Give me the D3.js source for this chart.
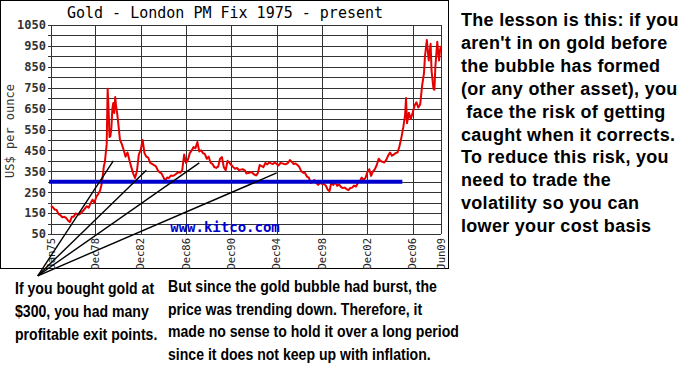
<!DOCTYPE html>
<html lang="en">
<head>
<meta charset="UTF-8">
<title>Gold - London PM Fix 1975 - present</title>
<script src="https://cdnjs.cloudflare.com/ajax/libs/d3/7.8.5/d3.min.js"></script>
<style>
    body { margin: 0; background: #fff; }
    .mono { font-family: "DejaVu Sans Mono", "Liberation Mono", monospace; }
    .note { font-family: "Liberation Sans", Arial, sans-serif; font-weight: bold; fill: #000; white-space: pre; }
</style>
</head>
<body>
<script>
    // gold price (month, US$ per ounce)
    var goldMonths = [
        "1975-01","1975-03","1975-05","1975-07","1975-09","1975-11",
        "1976-01","1976-03","1976-05","1976-07","1976-09","1976-11",
        "1977-01","1977-03","1977-05","1977-07","1977-09","1977-11",
        "1978-01","1978-03","1978-05","1978-07","1978-09","1978-11",
        "1979-01","1979-03","1979-05","1979-07","1979-09","1979-10","1979-12",
        "1980-01","1980-02","1980-03","1980-04","1980-05","1980-06","1980-07","1980-08","1980-09","1980-10","1980-11","1980-12",
        "1981-02","1981-04","1981-06","1981-08","1981-10","1981-12",
        "1982-02","1982-04","1982-06","1982-08","1982-10","1982-12",
        "1983-02","1983-04","1983-06","1983-08","1983-10","1983-12",
        "1984-02","1984-04","1984-06","1984-08","1984-10","1984-12",
        "1985-02","1985-04","1985-06","1985-08","1985-10","1985-12",
        "1986-02","1986-04","1986-06","1986-08","1986-10","1986-12",
        "1987-02","1987-04","1987-06","1987-08","1987-10","1987-12",
        "1988-02","1988-04","1988-06","1988-08","1988-10","1988-12",
        "1989-02","1989-04","1989-06","1989-08","1989-10","1989-12",
        "1990-02","1990-04","1990-06","1990-08","1990-10","1990-12",
        "1991-02","1991-04","1991-06","1991-08","1991-10","1991-12",
        "1992-02","1992-04","1992-06","1992-08","1992-10","1992-12",
        "1993-02","1993-04","1993-06","1993-08","1993-10","1993-12",
        "1994-02","1994-04","1994-06","1994-08","1994-10","1994-12",
        "1995-02","1995-04","1995-06","1995-08","1995-10","1995-12",
        "1996-02","1996-04","1996-06","1996-08","1996-10","1996-12",
        "1997-02","1997-04","1997-06","1997-08","1997-10","1997-12",
        "1998-02","1998-04","1998-06","1998-08","1998-10","1998-12",
        "1999-02","1999-04","1999-06","1999-08","1999-10","1999-12",
        "2000-02","2000-04","2000-06","2000-08","2000-10","2000-12",
        "2001-02","2001-04","2001-06","2001-08","2001-10","2001-12",
        "2002-02","2002-04","2002-06","2002-08","2002-10","2002-12",
        "2003-02","2003-04","2003-06","2003-08","2003-10","2003-12",
        "2004-02","2004-04","2004-06","2004-08","2004-10","2004-12",
        "2005-02","2005-04","2005-06","2005-08","2005-10","2005-12",
        "2006-02","2006-04","2006-05","2006-06","2006-08","2006-10","2006-12",
        "2007-02","2007-04","2007-06","2007-08","2007-10","2007-12",
        "2008-01","2008-03","2008-05","2008-07","2008-08","2008-10","2008-11","2008-12",
        "2009-02","2009-03","2009-04","2009-05","2009-06"
    ];
    var goldPrices = [
        185, 178, 167, 165, 145, 140,
        130, 132, 127, 115, 107, 132,
        133, 148, 146, 143, 152, 161,
        172, 183, 176, 198, 214, 200,
        228, 241, 257, 295, 375, 392, 480,
        745, 640, 514, 520, 560, 650, 677, 629, 705, 660, 630, 590,
        500, 480, 452, 420, 440, 404,
        370, 340, 318, 350, 430, 452,
        500, 437, 420, 415, 390, 385,
        380, 375, 356, 345, 340, 322,
        305, 320, 318, 330, 328, 332,
        340, 345, 343, 356, 430, 390,
        405, 437, 450, 466, 460, 490,
        445, 450, 437, 432, 410, 420,
        390, 385, 370, 366, 372, 410,
        418, 370, 355, 400, 390, 380,
        370, 362, 366, 356, 358, 360,
        356, 340, 342, 345, 344, 335,
        330, 340, 380, 375, 370, 390,
        383, 392, 388, 385, 392, 385,
        378, 390, 388, 385, 384, 390,
        404, 395, 385, 387, 380, 370,
        350, 343, 342, 325, 320, 295,
        300, 308, 294, 285, 295, 290,
        288, 282, 262, 255, 300, 285,
        298, 280, 288, 275, 270, 272,
        265, 260, 270, 272, 282, 277,
        295, 302, 320, 310, 318, 345,
        360, 328, 350, 360, 380, 410,
        400, 395, 392, 405, 425, 440,
        425, 430, 438, 440, 470, 510,
        560, 620, 701, 580, 630, 600, 630,
        665, 680, 655, 670, 760, 820,
        900, 978, 880, 960, 830, 745, 740, 850,
        970, 920, 880, 930, 950
    ];

    // axes
    var yTicks = [50, 150, 250, 350, 450, 550, 650, 750, 850, 950, 1050];
    var xTickMonths = ["1975-01","1978-12","1982-12","1986-12","1990-12","1994-12","1998-12","2002-12","2006-12","2009-06"];
    var xTickLabels = ["Jan75","Dec78","Dec82","Dec86","Dec90","Dec94","Dec98","Dec02","Dec06","Jun09"];

    // the $300 buy line and the exit-point pointers
    var buyPrice = 300;
    var buyFrom = "1974-11", buyTo = "2006-01";
    var pointerMonth = "1973-11", pointerPrice = -150;
    var exitMonths = ["1980-07","1983-06","1988-02","1994-12"];
    var exitPrices = [400, 355, 390, 342];

    // annotation texts
    var lessonLines = [
        "The lesson is this: if you",
        "aren't in on gold before",
        "the bubble has formed",
        "(or any other asset), you",
        " face the risk of getting",
        "caught when it corrects.",
        "To reduce this risk, you",
        "need to trade the",
        "volatility so you can",
        "lower your cost basis"
    ];
    var exitLines = [
        "If you bought gold at",
        "$300, you had many",
        "profitable exit points."
    ];
    var burstLines = [
        "But since the gold bubble had burst, the",
        "price was trending down. Therefore, it",
        "made no sense to hold it over a long period",
        "since it does not keep up with inflation."
    ];

    var parseMonth = d3.timeParse("%Y-%m");
    var gold = goldMonths.map(function (m, i) {
        return { date: parseMonth(m), price: goldPrices[i] };
    });

    var svg = d3.select("body").append("svg")
        .attr("width", 683)
        .attr("height", 384)
        .style("display", "block");

    svg.append("rect").attr("width", 683).attr("height", 384).attr("fill", "#fff");

    // chart frame
    svg.append("rect")
        .attr("x", 0.5).attr("y", 0.5)
        .attr("width", 448).attr("height", 268)
        .attr("fill", "#fff")
        .attr("stroke", "#000");

    var x = d3.scaleTime()
        .domain([parseMonth("1975-01"), parseMonth("2009-06")])
        .range([51, 441]);
    var y = d3.scaleLinear()
        .domain([50, 1050])
        .range([234, 25]);

    var grid = svg.append("g").attr("class", "grid");

    // horizontal grid every $50
    grid.selectAll("line.h")
        .data(d3.range(50, 1051, 50))
        .enter().append("line")
        .attr("class", "h")
        .attr("x1", x.range()[0] - 3).attr("x2", x.range()[1])
        .attr("y1", function (d) { return Math.round(y(d)) + 0.5; })
        .attr("y2", function (d) { return Math.round(y(d)) + 0.5; })
        .attr("stroke", "#333")
        .attr("stroke-width", 1);

    // vertical grid at the date ticks
    grid.selectAll("line.v")
        .data(xTickMonths)
        .enter().append("line")
        .attr("class", "v")
        .attr("x1", function (d) { return Math.round(x(parseMonth(d))) + 0.5; })
        .attr("x2", function (d) { return Math.round(x(parseMonth(d))) + 0.5; })
        .attr("y1", y(1050)).attr("y2", y(50))
        .attr("stroke", "#333")
        .attr("stroke-width", 1);

    // y tick labels
    svg.append("g").attr("class", "mono")
        .selectAll("text")
        .data(yTicks)
        .enter().append("text")
        .attr("x", 46)
        .attr("y", function (d) { return y(d); })
        .attr("dy", "0.36em")
        .attr("text-anchor", "end")
        .attr("font-size", 12)
        .attr("font-weight", "bold")
        .attr("fill", "#333")
        .text(function (d) { return d; });

    // x tick labels, rotated
    svg.append("g").attr("class", "mono")
        .selectAll("text")
        .data(xTickMonths)
        .enter().append("text")
        .attr("transform", function (d) {
            return "translate(" + x(parseMonth(d)) + "," + (y(50) + 4) + ") rotate(-90)";
        })
        .attr("dy", "0.35em")
        .attr("text-anchor", "end")
        .attr("font-size", 10.5)
        .attr("fill", "#222")
        .text(function (d, i) { return xTickLabels[i]; });

    // y axis title
    svg.append("text")
        .attr("class", "mono")
        .attr("transform", "translate(10,131) rotate(-90)")
        .attr("dy", "0.35em")
        .attr("text-anchor", "middle")
        .attr("font-size", 12)
        .attr("fill", "#333")
        .text("US$ per ounce");

    // title
    svg.append("text")
        .attr("class", "mono")
        .attr("x", 225).attr("y", 18)
        .attr("text-anchor", "middle")
        .attr("font-size", 15)
        .attr("fill", "#000")
        .text("Gold - London PM Fix 1975 - present");

    // watermark
    svg.append("text")
        .attr("class", "mono")
        .attr("x", 225).attr("y", 232)
        .attr("text-anchor", "middle")
        .attr("font-size", 14)
        .attr("font-weight", "bold")
        .attr("fill", "#0000cc")
        .text("www.kitco.com");

    // price line
    var line = d3.line()
        .x(function (d) { return x(d.date); })
        .y(function (d) { return y(d.price); });

    svg.append("path")
        .datum(gold)
        .attr("d", line)
        .attr("fill", "none")
        .attr("stroke", "#e60000")
        .attr("stroke-width", 2)
        .attr("stroke-linejoin", "round");

    // $300 buy level
    svg.append("line")
        .attr("x1", x(parseMonth(buyFrom))).attr("x2", x(parseMonth(buyTo)))
        .attr("y1", y(buyPrice)).attr("y2", y(buyPrice))
        .attr("stroke", "#0000cc")
        .attr("stroke-width", 4);

    // pointers to the exit points
    var px = x(parseMonth(pointerMonth)), py = y(pointerPrice);
    svg.append("g").selectAll("line")
        .data(exitMonths)
        .enter().append("line")
        .attr("x1", px).attr("y1", py)
        .attr("x2", function (d) { return x(parseMonth(d)); })
        .attr("y2", function (d, i) { return y(exitPrices[i]); })
        .attr("stroke", "#000")
        .attr("stroke-width", 1.4);

    // right-hand note
    svg.append("g").selectAll("text")
        .data(lessonLines)
        .enter().append("text")
        .attr("class", "note")
        .attr("x", 461)
        .attr("y", function (d, i) { return 26 + i * 22.9; })
        .attr("font-size", 18)
        .attr("letter-spacing", 0.3)
        .text(function (d) { return d; });

    // bottom notes, condensed
    var exitNote = svg.append("g").attr("transform", "translate(15,0) scale(0.88,1)");
    exitNote.selectAll("text")
        .data(exitLines)
        .enter().append("text")
        .attr("class", "note")
        .attr("x", 0)
        .attr("y", function (d, i) { return 294 + i * 23; })
        .attr("font-size", 16)
        .text(function (d) { return d; });

    var burstNote = svg.append("g").attr("transform", "translate(168,0) scale(0.88,1)");
    burstNote.selectAll("text")
        .data(burstLines)
        .enter().append("text")
        .attr("class", "note")
        .attr("x", 0)
        .attr("y", function (d, i) { return 292 + i * 22.7; })
        .attr("font-size", 16)
        .text(function (d) { return d; });
</script>
</body>
</html>
